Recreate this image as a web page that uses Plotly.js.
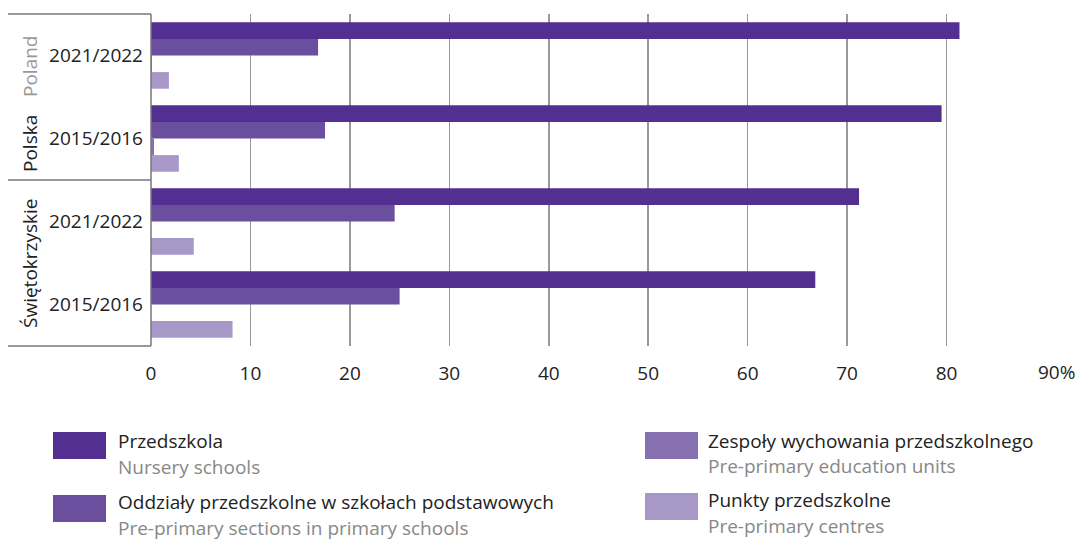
<!DOCTYPE html>
<html>
<head>
<meta charset="utf-8">
<script src="https://cdn.plot.ly/plotly-3.0.1.min.js"></script>
<style>html,body{margin:0;padding:0;background:#fff;}#chart{width:1079px;height:540px;}</style>
</head>
<body>
<div id="chart"></div>
<script>
// ---- data ----
var categories = ["Polska 2021/2022", "Polska 2015/2016", "Świętokrzyskie 2021/2022", "Świętokrzyskie 2015/2016"];
var yearLabels = ["2021/2022", "2015/2016", "2021/2022", "2015/2016"];
var przedszkola = [81.3, 79.5, 71.2, 66.8];
var oddzialy = [16.8, 17.5, 24.5, 25.0];
var zespoly = [0.1, 0.3, 0.0, 0.0];
var punkty = [1.8, 2.8, 4.3, 8.2];
var seriesPL = ["Przedszkola", "Oddziały przedszkolne w szkołach podstawowych", "Zespoły wychowania przedszkolnego", "Punkty przedszkolne"];
var seriesEN = ["Nursery schools", "Pre-primary sections in primary schools", "Pre-primary education units", "Pre-primary centres"];
var xTickVals = [0, 10, 20, 30, 40, 50, 60, 70, 80, 90];
var xTickText = ["0", "10", "20", "30", "40", "50", "60", "70", "80", "90%"];
var colors = ["#522f91", "#6b4f9f", "#8670b0", "#a898c8"];

// ---- layout helpers (pixel -> paper) ----
var W = 1079, H = 540, L = 151, R = 32, T = 14, B = 194;
var pw = W - L - R, ph = H - T - B;
function px(x) { return (x - L) / pw; }
function py(y) { return (H - B - y) / ph; }
var FONT = "Open Sans, sans-serif";
var FS = 19;

var vals = [przedszkola, oddzialy, zespoly, punkty];
var traces = vals.map(function (v, i) {
  return {
    type: "bar", orientation: "h", x: v, y: categories, name: seriesPL[i],
    marker: { color: colors[i], line: { width: 0 } }, hoverinfo: "x+name"
  };
});

var shapes = [];
[14, 180, 346].forEach(function (y) {
  shapes.push({ type: "line", xref: "paper", yref: "paper", x0: px(8), x1: 0, y0: py(y), y1: py(y), line: { color: "#777", width: 1.5 } });
});
shapes.push({ type: "line", xref: "paper", yref: "paper", x0: 0, x1: 0, y0: 0, y1: 1, line: { color: "#777", width: 1.5 } });

var annotations = [];
annotations.push({ xref: "paper", yref: "paper", x: px(30), y: py(66), text: "Poland", textangle: -90, showarrow: false, font: { family: FONT, size: FS, color: "#999" }, xanchor: "center", yanchor: "middle" });
annotations.push({ xref: "paper", yref: "paper", x: px(30), y: py(144), text: "Polska", textangle: -90, showarrow: false, font: { family: FONT, size: FS, color: "#222" }, xanchor: "center", yanchor: "middle" });
annotations.push({ xref: "paper", yref: "paper", x: px(30), y: py(264), text: "Świętokrzyskie", textangle: -90, showarrow: false, font: { family: FONT, size: FS, color: "#222" }, xanchor: "center", yanchor: "middle" });

// last x tick label ("90%") hangs right of its gridline, as in the reference
annotations.push({ xref: "paper", yref: "paper", x: px(1036), y: py(372), text: xTickText[xTickText.length - 1], showarrow: false, xanchor: "left", yanchor: "middle", font: { family: FONT, size: FS, color: "#222" } });
var tickTextShown = xTickText.slice(0, -1).concat([""]);

// legend (custom)
var legPos = [[53, 106, 432, 459, 117, 441, 467], [53, 106, 495, 522, 117, 502, 528], [645, 698, 432, 459, 707, 441, 466], [645, 698, 493, 520, 707, 500, 526]];
legPos.forEach(function (p, i) {
  shapes.push({ type: "rect", xref: "paper", yref: "paper", x0: px(p[0]), x1: px(p[1]), y0: py(p[3]), y1: py(p[2]), fillcolor: colors[i], line: { width: 0 } });
  annotations.push({ xref: "paper", yref: "paper", x: px(p[4]), y: py(p[5]), text: seriesPL[i], showarrow: false, xanchor: "left", yanchor: "middle", borderpad: 0, font: { family: FONT, size: FS, color: "#222" } });
  annotations.push({ xref: "paper", yref: "paper", x: px(p[4]), y: py(p[6]), text: seriesEN[i], showarrow: false, xanchor: "left", yanchor: "middle", borderpad: 0, font: { family: FONT, size: FS, color: "#888" } });
});

var layout = {
  width: W, height: H,
  margin: { l: L, r: R, t: T, b: B, pad: 0 },
  paper_bgcolor: "#fff", plot_bgcolor: "#fff",
  barmode: "group", bargap: 0.2, bargroupgap: 0,
  showlegend: false,
  font: { family: FONT, size: FS, color: "#222" },
  xaxis: {
    range: [0, 90.1], tickvals: xTickVals, ticktext: tickTextShown, showgrid: true, gridcolor: "#999", gridwidth: 1.5,
    zeroline: false, showline: false, ticks: "", ticklabelstandoff: 14, tickfont: { family: FONT, size: FS, color: "#222" }
  },
  yaxis: {
    type: "category", autorange: "reversed", tickvals: categories, ticktext: yearLabels,
    showgrid: false, zeroline: false, showline: false, ticks: "", ticklabelstandoff: 7,
    tickfont: { family: FONT, size: FS, color: "#222" }
  },
  shapes: shapes, annotations: annotations
};

Plotly.newPlot("chart", traces, layout, { displayModeBar: false, staticPlot: true });
</script>
</body>
</html>
